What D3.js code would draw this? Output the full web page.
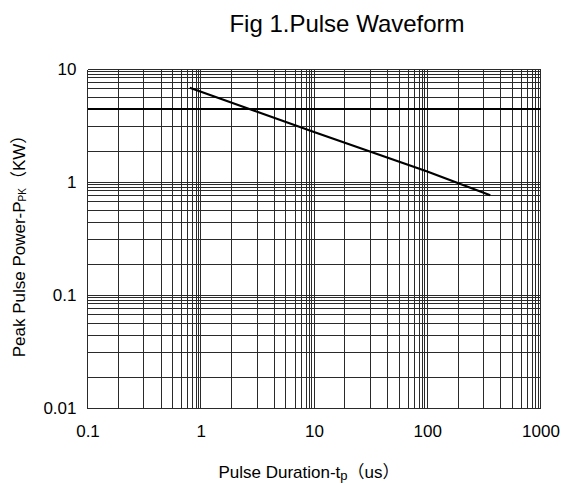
<!DOCTYPE html>
<html>
<head>
<meta charset="utf-8">
<script src="https://cdn.jsdelivr.net/npm/d3@7"></script>
<style>
  body { margin: 0; background: #fff; }
  text, tspan { font-family: "Liberation Sans", Arial, "Noto Sans CJK SC", sans-serif; fill: #000; }
</style>
</head>
<body>
<svg id="chart" width="564" height="483"></svg>
<script>
// values
const xTicks = [0.1, 1, 10, 100, 1000]
const yTicks = [0.01, 0.1, 1, 10]
// the printed grid is not a true log grid, these are the sub lines per decade
const gridSteps = [1.87, 3.14, 4.46, 5.65, 6.8, 7.68, 8.5, 9.08, 9.53]
const heavyLines = [4.46]

const pulseWidth = [0.8, 10, 100, 360]
const peakPower = [6.9, 2.8, 1.25, 0.77]

const margin = {top: 69.5, left: 87.5, right: 540.5, bottom: 408.5}

const svg = d3.select('#chart')

const x = d3.scaleLog()
  .domain([0.1, 1000])
  .range([margin.left, margin.right])

const y = d3.scaleLog()
  .domain([0.01, 10])
  .range([margin.bottom, margin.top])

// grid values
const xGrid = []
xTicks.slice(0, -1).forEach(d => {
  xGrid.push(d)
  gridSteps.forEach(s => xGrid.push(d * s))
})
xGrid.push(1000)

const yGrid = []
yTicks.slice(0, -1).forEach(d => {
  yGrid.push(d)
  gridSteps.forEach(s => yGrid.push(d * s))
})
yGrid.push(10)

const grid = svg.append('g')
  .attr('shape-rendering', 'crispEdges')
  .attr('stroke', '#2a2a2a')
  .attr('stroke-width', 1)

grid.selectAll('.vx')
  .data(xGrid)
  .enter()
  .append('line')
  .attr('x1', d => x(d))
  .attr('x2', d => x(d))
  .attr('y1', margin.top)
  .attr('y2', margin.bottom)

grid.selectAll('.hy')
  .data(yGrid)
  .enter()
  .append('line')
  .attr('y1', d => y(d))
  .attr('y2', d => y(d))
  .attr('x1', margin.left)
  .attr('x2', margin.right)

grid.selectAll('.heavy')
  .data(heavyLines)
  .enter()
  .append('line')
  .attr('y1', d => y(d))
  .attr('y2', d => y(d))
  .attr('x1', margin.left)
  .attr('x2', margin.right)
  .attr('stroke', '#000')
  .attr('stroke-width', 2)

// curve
const line = d3.line()
  .x((d, i) => x(pulseWidth[i]))
  .y(d => y(d))

svg.append('path')
  .datum(peakPower)
  .attr('d', line)
  .attr('fill', 'none')
  .attr('stroke', '#000')
  .attr('stroke-width', 2.2)

// axes (labels only)
const xAxis = d3.axisBottom(x)
  .tickValues(xTicks)
  .tickFormat(d3.format('~g'))
  .tickSize(0)
  .tickPadding(16)

svg.append('g')
  .attr('transform', 'translate(0,' + margin.bottom + ')')
  .call(xAxis)
  .call(g => g.select('.domain').remove())
  .selectAll('text')
  .style('font-size', '17px')

const yAxis = d3.axisLeft(y)
  .tickValues(yTicks)
  .tickFormat(d3.format('~g'))
  .tickSize(0)
  .tickPadding(11)

svg.append('g')
  .attr('transform', 'translate(' + margin.left + ',0)')
  .call(yAxis)
  .call(g => g.select('.domain').remove())
  .selectAll('text')
  .style('font-size', '17px')

// title
svg.append('text')
  .attr('x', 347)
  .attr('y', 32)
  .attr('text-anchor', 'middle')
  .style('font-size', '24px')
  .text('Fig 1.Pulse Waveform')

// x title
const xt = svg.append('text')
  .attr('x', 309)
  .attr('y', 478)
  .attr('text-anchor', 'middle')
  .style('font-size', '17px')
xt.append('tspan').text('Pulse Duration-t')
xt.append('tspan').style('font-size', '13px').attr('dy', 2).text('p')
xt.append('tspan').attr('dy', -2).text('（us）')

// y title
const yt = svg.append('text')
  .attr('transform', 'translate(25,242) rotate(-90)')
  .attr('text-anchor', 'middle')
  .style('font-size', '17px')
yt.append('tspan').text('Peak Pulse Power-P')
yt.append('tspan').style('font-size', '10px').attr('dy', 1).text('PK')
yt.append('tspan').attr('dy', -1).text('（KW）')
</script>
</body>
</html>
